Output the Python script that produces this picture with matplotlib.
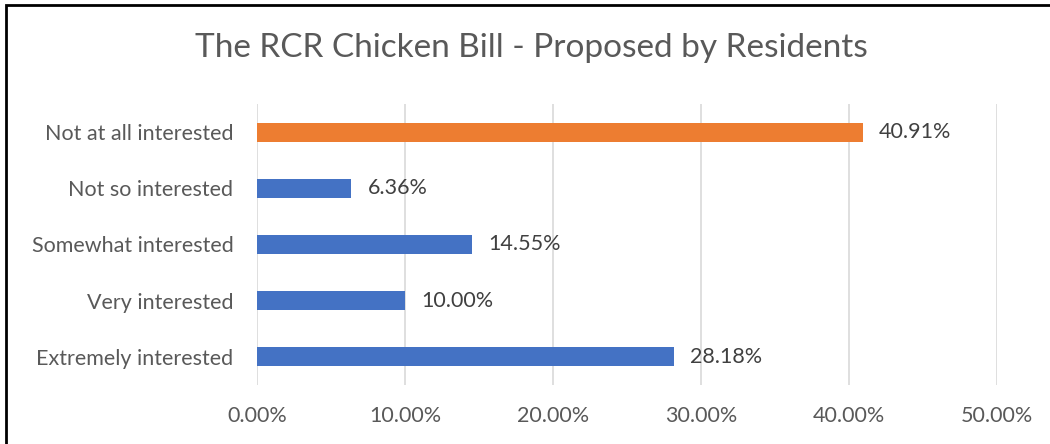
import matplotlib.pyplot as plt
from matplotlib.patches import Rectangle

categories = ['Extremely interested', 'Very interested', 'Somewhat interested',
              'Not so interested', 'Not at all interested']
values = [28.18, 10.00, 14.55, 6.36, 40.91]
colors = ['#4472C4', '#4472C4', '#4472C4', '#4472C4', '#ED7D31']
xticks = [0, 10, 20, 30, 40, 50]

plt.rcParams['font.family'] = ['Lato', 'DejaVu Sans']

fig = plt.figure(figsize=(10.5, 4.44), dpi=100)
ax = fig.add_axes([0.2448, 0.1329, 0.7048, 0.6329])

ypos = list(range(len(categories)))
ax.barh(ypos, values, height=0.34, color=colors, zorder=3)
for y, v in zip(ypos, values):
    ax.text(v + 1.1, y, f'{v:.2f}%', va='center', ha='left',
            fontsize=15.5, color='#404040')

ax.set_xlim(0, 50)
ax.set_ylim(-0.5, 4.5)
ax.set_yticks(ypos)
ax.set_yticklabels(categories, fontsize=15.5, color='#595959')
ax.set_xticks(xticks)
ax.set_xticklabels([f'{t:.2f}%' for t in xticks], fontsize=15.5, color='#595959')
ax.tick_params(length=0)
ax.tick_params(axis='x', pad=15)
ax.tick_params(axis='y', pad=17)
ax.grid(axis='x', color='#D9D9D9', linewidth=1.2, zorder=0)
for s in ax.spines.values():
    s.set_visible(False)

fig.text(0.506, 0.893, 'The RCR Chicken Bill - Proposed by Residents',
         ha='center', va='center', fontsize=24, color='#595959')

fig.patches.append(Rectangle((6 / 1050, -0.1), 1.2, 1 - 5 / 444 + 0.1,
                             transform=fig.transFigure, fill=False,
                             edgecolor='black', linewidth=2))

fig.savefig('out.png', dpi=100)
